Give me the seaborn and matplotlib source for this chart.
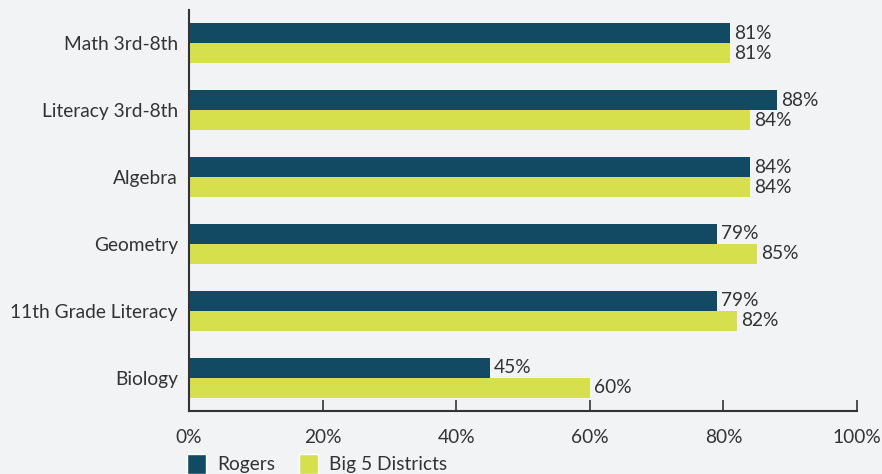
import matplotlib
matplotlib.use("Agg")
import matplotlib.pyplot as plt
import seaborn as sns
import pandas as pd
from matplotlib.patches import Patch

categories = ["Math 3rd-8th", "Literacy 3rd-8th", "Algebra", "Geometry", "11th Grade Literacy", "Biology"]
rogers = [81, 88, 84, 79, 79, 45]
big5 = [81, 84, 84, 85, 82, 60]
series_names = ["Rogers", "Big 5 Districts"]
xticks = [0, 20, 40, 60, 80, 100]

BG = "#f2f3f5"
C_DARK = "#114a62"
C_LIGHT = "#d5e04c"
TXT = "#333333"
FS = 13.8

sns.set_theme(style="white")
plt.rcParams["font.family"] = ["Lato", "DejaVu Sans"]

df = pd.DataFrame({
    "category": categories * 2,
    "value": rogers + big5,
    "series": [series_names[0]] * len(categories) + [series_names[1]] * len(categories),
})

fig = plt.figure(figsize=(8.82, 4.74), dpi=100, facecolor=BG)
ax = fig.add_axes([189/882, 63/474, (857-189)/882, (411-10)/474])
ax.set_facecolor(BG)

sns.barplot(data=df, y="category", x="value", hue="series", order=categories,
            hue_order=series_names, palette=[C_DARK, C_LIGHT], width=0.6,
            orient="h", ax=ax, legend=False, saturation=1, linewidth=0)

for cont in ax.containers:
    ax.bar_label(cont, labels=[f"{int(round(v))}%" for v in cont.datavalues],
                 padding=3, fontsize=FS, color=TXT)

ax.set_xlim(0, 100)
ax.set_ylim(5.5, -0.5)
ax.set_xticks(xticks)
ax.set_xticklabels([f"{t}%" for t in xticks])
ax.set_xlabel("")
ax.set_ylabel("")
ax.tick_params(axis="x", direction="in", length=8, width=1.2, colors="#333333",
               labelcolor=TXT, labelsize=FS, pad=13, bottom=True)
ax.tick_params(axis="y", length=0, labelcolor=TXT, labelsize=FS, pad=8, left=False)
for s in ["top", "right"]:
    ax.spines[s].set_visible(False)
for s in ["left", "bottom"]:
    ax.spines[s].set_visible(True)
    ax.spines[s].set_color("#333333")
    ax.spines[s].set_linewidth(1.5)

handles = [Patch(facecolor=C_DARK), Patch(facecolor=C_LIGHT)]
fig.legend(handles, series_names, loc="center left", bbox_to_anchor=(187/882, 10/474),
           ncol=2, frameon=False, fontsize=FS, handlelength=1.0, handleheight=1.25,
           handletextpad=0.6, columnspacing=1.2, labelcolor=TXT,
           borderpad=0, borderaxespad=0)

fig.savefig("out.png", dpi=100, facecolor=BG)
